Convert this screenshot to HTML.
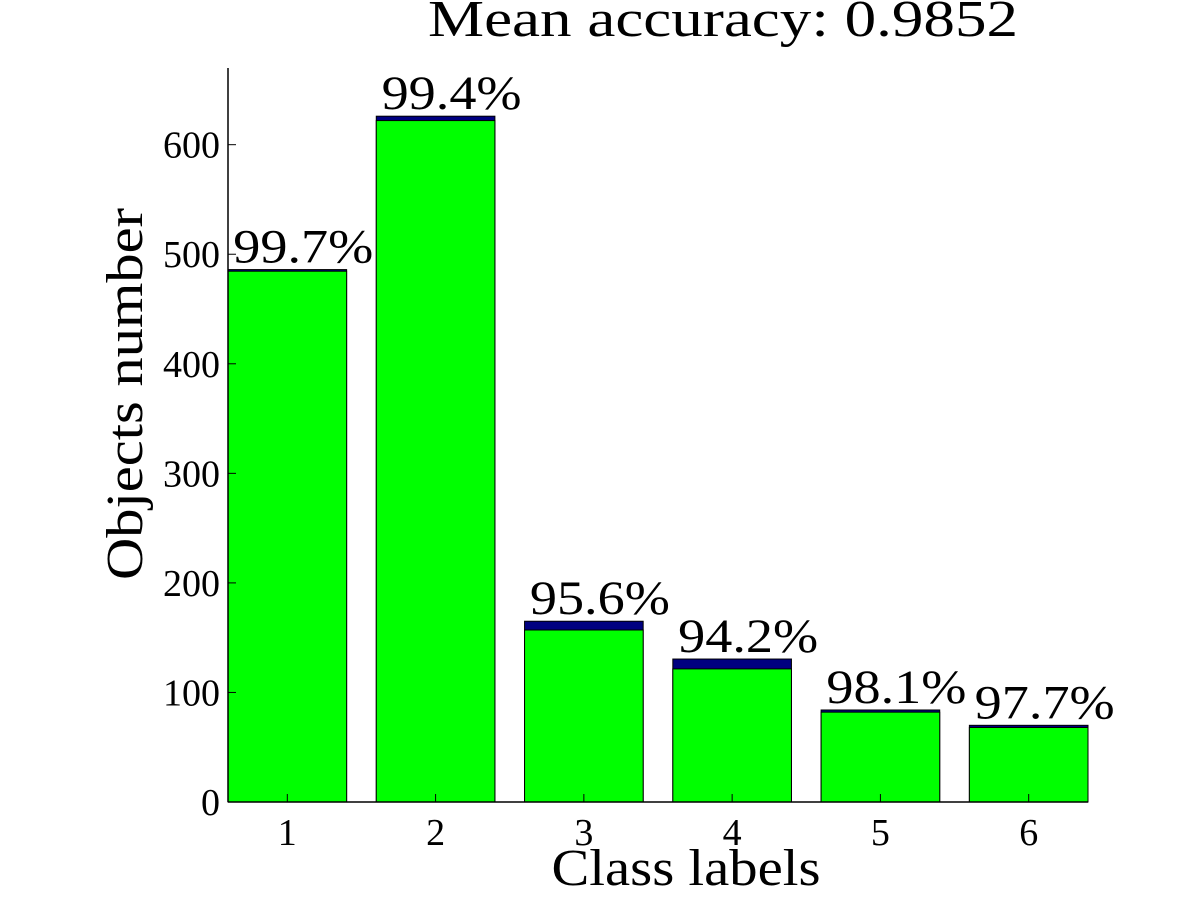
<!DOCTYPE html>
<html><head><meta charset="utf-8"><style>
body{margin:0;background:#fff;}
svg text{font-family:"Liberation Serif",serif;fill:#000;}
</style></head><body>
<svg id="chart" width="1201" height="901">
<text x="723" y="36" font-size="52" text-anchor="middle" textLength="590" lengthAdjust="spacingAndGlyphs">Mean accuracy: 0.9852</text>
<text x="686" y="885" font-size="52" text-anchor="middle" textLength="269" lengthAdjust="spacingAndGlyphs">Class labels</text>
<text transform="translate(142,394) rotate(-90)" font-size="52" text-anchor="middle" textLength="372" lengthAdjust="spacingAndGlyphs">Objects number</text>
<g id="bars"></g>
<g id="axes"></g>
</svg>
<script>
const categories = ["1","2","3","4","5","6"];
const totals = [486, 626, 165, 130.5, 84, 70];
const correct = [484.5, 622, 157, 121.5, 82, 68];
const labels = ["99.7%","99.4%","95.6%","94.2%","98.1%","97.7%"];
const yTicks = [0,100,200,300,400,500,600];

const NS="http://www.w3.org/2000/svg";
const x0=228, x1=1088, y0=802, yTop=68;
const xMin=0.6, xMax=6.4, yMax=670;
const xs=v=>x0+(v-xMin)/(xMax-xMin)*(x1-x0);
const ys=v=>y0-v/yMax*(y0-yTop);
function mk(tag,attrs,parent){const e=document.createElementNS(NS,tag);for(const k in attrs)e.setAttribute(k,attrs[k]);parent.appendChild(e);return e;}
const bars=document.getElementById('bars'), axes=document.getElementById('axes');
const bw=0.8;
categories.forEach((c,i)=>{
  const cx=i+1, l=xs(cx-bw/2), w=xs(cx+bw/2)-l;
  const b=mk('rect',{x:l,y:ys(totals[i]),width:w,height:ys(0)-ys(totals[i]),fill:'#000080',stroke:'#000','stroke-width':1},bars);
  
  
  const g=mk('rect',{x:l,y:ys(correct[i]),width:w,height:ys(0)-ys(correct[i]),fill:'#00ff00',stroke:'#000','stroke-width':1},bars);
  
  
  const t=mk('text',{x:xs(cx)+16,y:ys(totals[i])-7,'font-size':48,'text-anchor':'middle',textLength:140,lengthAdjust:'spacingAndGlyphs'},bars);
  t.textContent=labels[i];
  
  
  const tk=mk('line',{x1:xs(cx),x2:xs(cx),y1:y0,y2:y0-8,stroke:'#000'},axes);
  
  
  const tl=mk('text',{x:xs(cx),y:y0+43,'font-size':38,'text-anchor':'middle'},axes);
  tl.textContent=c;
  
  
});
yTicks.forEach(v=>{
  const tk=mk('line',{x1:x0,x2:x0+8,y1:ys(v),y2:ys(v),stroke:'#000'},axes);
  
  
  const tl=mk('text',{x:x0-8,y:ys(v)+13,'font-size':38,'text-anchor':'end'},axes);
  tl.textContent=v;
  
  
});
const ya=mk('line',{x1:x0,x2:x0,y1:yTop,y2:y0,stroke:'#000','stroke-width':1.5},axes);


const xa=mk('line',{x1:x0,x2:x1,y1:y0,y2:y0,stroke:'#000','stroke-width':1.5},axes);


</script>
</body></html>
